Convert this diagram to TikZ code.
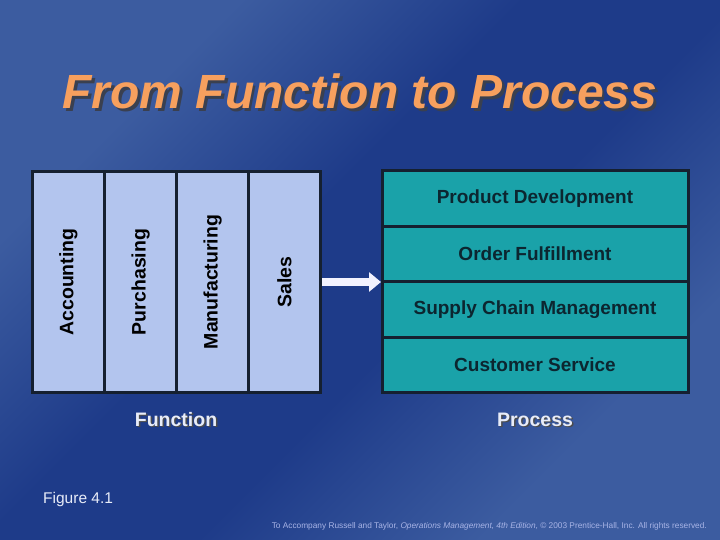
\documentclass[tikz,border=0pt]{standalone}
\usepackage{fontspec}
\setmainfont{Liberation Sans}
\usetikzlibrary{arrows.meta}
\definecolor{bglight}{HTML}{3C5CA0}
\definecolor{bgdark}{HTML}{1E3B89}
\definecolor{colfill}{HTML}{B3C5EE}
\definecolor{rowfill}{HTML}{1AA2A9}
\definecolor{edge}{HTML}{152030}
\definecolor{titleor}{HTML}{F7A05E}
\definecolor{shadowc}{HTML}{3A4050}
\definecolor{rowtext}{HTML}{0C2630}
\definecolor{lbl}{HTML}{E8ECF8}
\definecolor{copyc}{HTML}{A8B4E6}
\pgfdeclareverticalshading{diagbg}{100bp}{color(0bp)=(bglight); color(28bp)=(bglight); color(44bp)=(bgdark); color(56bp)=(bgdark); color(72bp)=(bglight); color(100bp)=(bglight)}
\tikzset{
  colbox/.style={draw=edge, line width=3pt, fill=colfill, minimum width=72pt, minimum height=221pt, inner sep=0pt, text=black, font=\bfseries\fontsize{19.5}{22}\selectfont},
  rowbox/.style={draw=edge, line width=3pt, fill=rowfill, minimum width=306pt, minimum height=55.5pt, inner sep=0pt, text=rowtext, font=\bfseries\fontsize{19}{22}\selectfont},
  sidelabel/.style={text=lbl, font=\bfseries\fontsize{19.5}{22}\selectfont, inner sep=0pt},
  bigarrow/.style={draw=white!95!blue, line width=7.5pt, -{Triangle[width=19pt,length=12pt]}, shorten >=1pt}
}
\begin{document}
\begin{tikzpicture}[x=1pt,y=-1pt]
\useasboundingbox (0,0) rectangle (720,540);
\shade[shading=diagbg, shading angle=45] (0,0) rectangle (720,540);
% title
\node[anchor=base, text=shadowc, font=\bfseries\itshape\fontsize{48}{56}\selectfont, inner sep=0pt] (titleshadow) at (362.5,111.5) {From Function to Process};
\node[anchor=base, text=titleor, font=\bfseries\itshape\fontsize{48}{56}\selectfont, inner sep=0pt] (title) at (360,109) {From Function to Process};
% function columns
\node[colbox] (acc) at (68.5,282) {\rotatebox{90}{Accounting}};
\node[colbox] (pur) at (140.5,282) {\rotatebox{90}{Purchasing}};
\node[colbox] (man) at (212.5,282) {\rotatebox{90}{Manufacturing}};
\node[colbox] (sal) at (284.5,282) {\rotatebox{90}{Sales}};
% process rows
\node[rowbox] (pd) at (535,198.5) {Product Development};
\node[rowbox] (of) at (535,254) {Order Fulfillment};
\node[rowbox] (sc) at (535,309.5) {Supply Chain Management};
\node[rowbox] (cs) at (535,365) {Customer Service};
% arrow
\coordinate (arrs) at (322,282);
\coordinate (arre) at (382,282);
\draw[bigarrow] (arrs) -- (arre);
% labels
\node[sidelabel, text=black!70, anchor=base] (funcsh) at (177.5,427) {Function};
\node[sidelabel, anchor=base] (func) at (176,426) {Function};
\node[sidelabel, text=black!70, anchor=base] (procsh) at (536.5,427) {Process};
\node[sidelabel, anchor=base] (proc) at (535,426) {Process};
\node[anchor=base west, text=lbl, font=\fontsize{15.5}{18}\selectfont, inner sep=0pt] (fig) at (43,503) {Figure 4.1};
\node[anchor=base east, text=copyc, font=\fontsize{8.3}{10}\selectfont, inner sep=0pt] (copy) at (707,528) {To Accompany Russell and Taylor, \textit{Operations Management, 4th Edition}, \textcopyright{} 2003 Prentice-Hall, Inc. All rights reserved.};
\end{tikzpicture}
\end{document}
